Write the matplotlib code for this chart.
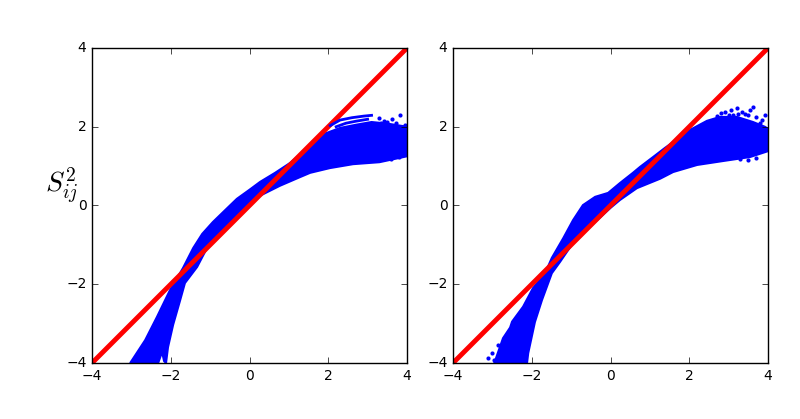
import numpy as np
import matplotlib
matplotlib.use('Agg')
import matplotlib.pyplot as plt

# outline of the point cloud (upper edge left to right, lower edge right to left)
left_upper_x = [-3.03, -2.65, -2.35, -2.02, -1.69, -1.43, -1.2, -0.93, -0.6, -0.32, 0.0, 0.27, 0.65, 1.03, 1.5, 1.9, 2.3, 2.7, 3.1, 3.5, 4.0]
left_upper_y = [-4.0, -3.42, -2.83, -2.15, -1.59, -1.08, -0.72, -0.42, -0.1, 0.17, 0.4, 0.6, 0.83, 1.08, 1.48, 1.82, 1.97, 2.05, 2.12, 2.08, 2.0]
left_lower_x = [4.0, 3.3, 2.63, 2.04, 1.54, 1.28, 0.77, 0.27, -0.3, -1.08, -1.33, -1.64, -1.76, -1.94, -2.07, -2.12, -2.17, -2.22, -2.32]
left_lower_y = [1.25, 1.1, 1.05, 0.95, 0.83, 0.72, 0.5, 0.25, -0.2, -1.08, -1.56, -1.97, -2.4, -3.03, -3.6, -4.0, -3.95, -3.72, -4.0]

right_upper_x = [-2.95, -2.73, -2.55, -2.5, -2.22, -1.97, -1.66, -1.49, -1.2, -0.95, -0.7, -0.39, -0.06, 0.24, 0.57, 0.75, 1.08, 1.38, 2.02, 2.45, 2.78, 3.21, 3.62, 3.92, 4.0]
right_upper_y = [-4.0, -3.37, -3.1, -2.95, -2.57, -2.1, -1.72, -1.33, -0.83, -0.37, 0.01, 0.22, 0.32, 0.57, 0.83, 0.98, 1.23, 1.46, 1.92, 2.15, 2.25, 2.25, 2.12, 2.0, 1.95]
right_lower_x = [4.0, 3.54, 2.86, 2.2, 1.59, 1.26, 0.67, 0.24, 0.0, -0.5, -1.0, -1.28, -1.49, -1.74, -1.92, -2.09, -2.12]
right_lower_y = [1.38, 1.23, 1.13, 1.03, 0.85, 0.68, 0.44, 0.14, -0.06, -0.52, -1.02, -1.43, -1.72, -2.4, -2.96, -3.75, -4.0]

# thin strands and loose points at the edge of the cloud
left_strand_x = [2.05, 2.3, 2.6, 2.9, 3.1]
left_strand_y = [2.03, 2.17, 2.23, 2.27, 2.29]
left_strand2_x = [2.2, 2.45, 2.7, 3.0]
left_strand2_y = [2.0, 2.09, 2.14, 2.19]
left_loose_x = [3.3, 3.42, 3.55, 3.62, 3.72, 3.82, 3.92, 3.25, 3.5, 3.75, 3.45, 3.6, 3.8, 3.2, 3.35, 3.95]
left_loose_y = [2.22, 2.15, 2.02, 2.2, 2.1, 2.31, 2.0, 2.07, 2.12, 2.0, 1.21, 1.17, 1.22, 1.18, 2.1, 2.05]
right_loose_x = [3.05, 3.2, 3.35, 3.62, 3.42, 3.55, 3.7, 3.85, 3.92, 2.9, 3.1, 3.3, 3.5, 3.7, -3.1, -3.02, -2.95, -2.85, 2.7, 2.8, 3.0, 3.25, 3.5, 3.8]
right_loose_y = [2.42, 2.47, 2.38, 2.5, 2.32, 2.42, 2.25, 2.17, 2.3, 2.38, 2.3, 1.18, 1.15, 1.2, -3.87, -3.75, -3.92, -3.55, 2.28, 2.36, 2.3, 2.32, 2.3, 2.1]

line_ends = [-4, 4]
ticks = [-4, -2, 0, 2, 4]


def draw_panel(ax, up_x, up_y, lo_x, lo_y, loose_x, loose_y):
    ax.fill(up_x + lo_x, up_y + lo_y, color='b', linewidth=1.5)
    ax.scatter(loose_x, loose_y, s=9, color='b', linewidths=0)
    ax.plot(line_ends, line_ends, color='r', linewidth=3.5)
    ax.set_xlim(-4, 4)
    ax.set_ylim(-4, 4)
    ax.set_xticks(ticks)
    ax.set_yticks(ticks)
    ax.tick_params(labelsize=10)


plt.style.use('classic')
fig = plt.figure(figsize=(8, 4.19), dpi=100, facecolor='white')
ax1 = fig.add_axes([92 / 800, 56 / 419, 315 / 800, 315 / 419])
ax2 = fig.add_axes([453 / 800, 56 / 419, 315 / 800, 315 / 419])

draw_panel(ax1, left_upper_x, left_upper_y, left_lower_x, left_lower_y, left_loose_x, left_loose_y)
ax1.plot(left_strand_x, left_strand_y, color='b', linewidth=2)
ax1.plot(left_strand2_x, left_strand2_y, color='b', linewidth=2)
draw_panel(ax2, right_upper_x, right_upper_y, right_lower_x, right_lower_y, right_loose_x, right_loose_y)

ax1.set_ylabel(r'$S_{ij}^2$', fontsize=20, rotation=0, labelpad=3, y=0.5)

fig.savefig('out.png', dpi=100, facecolor='white')
